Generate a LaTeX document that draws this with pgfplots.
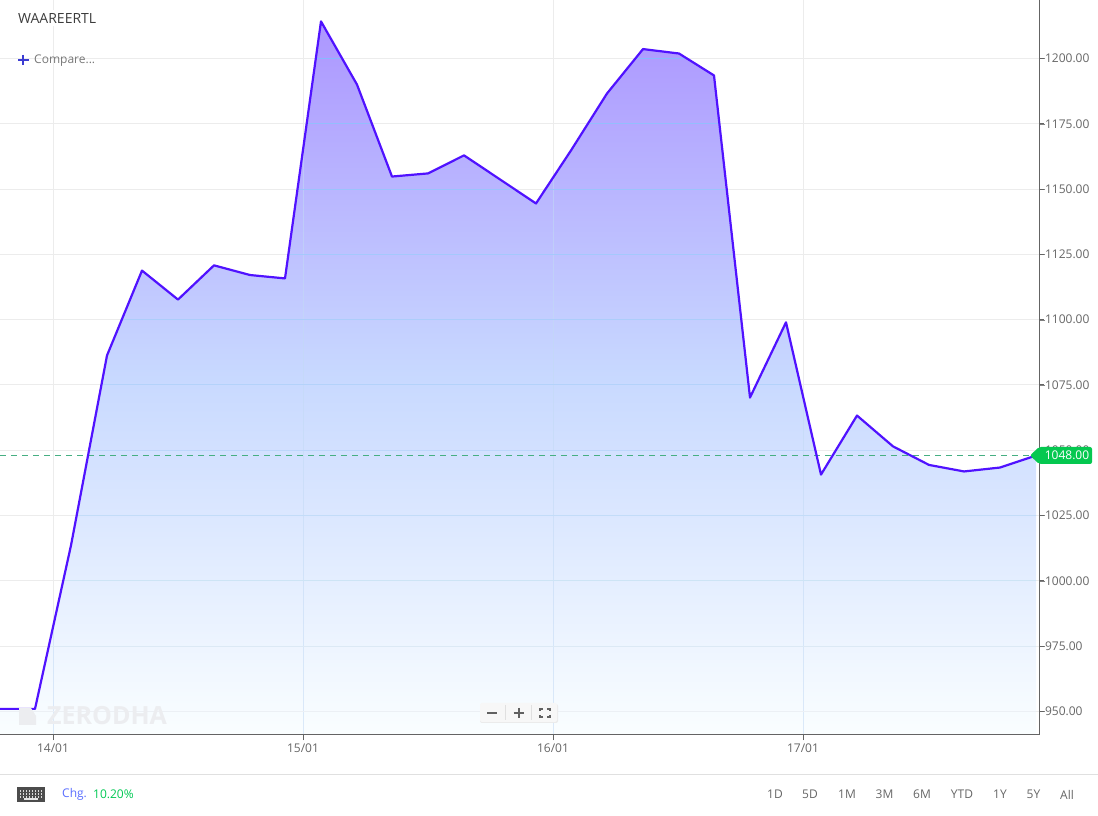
\documentclass[border=0pt]{standalone}
\usepackage{fontspec}
\setmainfont{Open Sans}
\usepackage{pgfplots}
\usepackage{pgfplotstable}
\pgfplotsset{compat=1.18}
\definecolor{linec}{RGB}{80,18,255}
\definecolor{gridc}{RGB}{236,236,236}
\definecolor{vgridin}{RGB}{195,218,245}
\definecolor{tickc}{RGB}{102,102,102}
\definecolor{spine}{RGB}{100,100,100}
\definecolor{tagc}{RGB}{5,200,80}
\definecolor{dashc}{RGB}{70,175,130}
\definecolor{btnc}{RGB}{102,102,102}
\definecolor{wm}{RGB}{236,237,240}
\definecolor{ftop}{RGB}{172,150,255}
\definecolor{fmid}{RGB}{200,217,255}
\definecolor{fbot}{RGB}{250,254,255}
\definecolor{plusc}{RGB}{60,60,210}
\definecolor{titlec}{RGB}{60,60,60}
\definecolor{compc}{RGB}{120,120,120}
\definecolor{chgc}{RGB}{90,110,255}
\definecolor{pctc}{RGB}{0,200,83}
\definecolor{g1200}{RGB}{135,185,255}
\definecolor{g1175}{RGB}{147,190,253}
\definecolor{g1150}{RGB}{155,195,252}
\definecolor{g1125}{RGB}{165,200,252}
\definecolor{g1100}{RGB}{172,205,250}
\definecolor{g1075}{RGB}{180,210,250}
\definecolor{g1050}{RGB}{188,214,250}
\definecolor{g1025}{RGB}{195,220,248}
\definecolor{g1000}{RGB}{205,228,245}
\definecolor{g975}{RGB}{220,233,245}
\definecolor{g950}{RGB}{236,240,245}
\pgfplotstableread{
x y
0 951
35 951
71 1013.6
107 1086.3
142 1118.8
178 1107.7
214 1120.8
250 1117.1
285 1115.8
321 1214.2
357 1190
392 1154.8
428 1156
464 1162.9
500 1153.7
536 1144.5
571 1164.8
607 1186.6
643 1203.6
679 1201.9
714 1193.5
750 1070.2
786 1099
821 1040.7
857 1063.3
893 1051.5
929 1044.4
964 1041.9
1000 1043.4
1036 1048
}\pricetable
\newcommand{\PX}[2]{({#1pt},{816pt-#2pt})}
\newcommand{\UI}[1]{\fontsize{#1}{#1}\selectfont}
\begin{document}
\begin{tikzpicture}[x=1pt,y=1pt]
\path[use as bounding box] (0pt,0pt) rectangle (1098pt,816pt);
\begin{axis}[
  at={(0pt,81.5pt)}, anchor=south west,
  scale only axis, width=1039pt, height=734pt,
  xmin=0, xmax=1039, ymin=941.2, ymax=1222.2,
  axis x line=bottom, axis y line=right,
  axis line style={-,draw=spine,line width=1pt},
  tick align=outside, major tick length=6pt,
  xtick={53,303,553,803},
  xticklabels={14/01,15/01,16/01,17/01},
  ytick={950,975,1000,1025,1050,1075,1100,1125,1150,1175,1200},
  grid=major, grid style={draw=gridc,line width=1pt},
  every tick label/.append style={font=\UI{12}, text=tickc},
  y tick label style={xshift=-3.5pt},
  /pgf/number format/assume math mode=true,
  y tick label style={/pgf/number format/.cd,fixed,fixed zerofill,precision=2,1000 sep={}},
]
\addplot[draw=none, top color=ftop, bottom color=fbot, middle color=fmid, forget plot]
  coordinates {(0,951)(35,951)(71,1013.6)(107,1086.3)(142,1118.8)(178,1107.7)(214,1120.8)(250,1117.1)(285,1115.8)(321,1214.2)(357,1190)(392,1154.8)(428,1156)(464,1162.9)(500,1153.7)(536,1144.5)(571,1164.8)(607,1186.6)(643,1203.6)(679,1201.9)(714,1193.5)(750,1070.2)(786,1099)(821,1040.7)(857,1063.3)(893,1051.5)(929,1044.4)(964,1041.9)(1000,1043.4)(1036,1048)(1036,941.2)(0,941.2)} \closedcycle;
\begin{scope}
\clip (axis cs:0,951)--(axis cs:35,951)--(axis cs:71,1013.6)--(axis cs:107,1086.3)--(axis cs:142,1118.8)--(axis cs:178,1107.7)--(axis cs:214,1120.8)--(axis cs:250,1117.1)--(axis cs:285,1115.8)--(axis cs:321,1214.2)--(axis cs:357,1190)--(axis cs:392,1154.8)--(axis cs:428,1156)--(axis cs:464,1162.9)--(axis cs:500,1153.7)--(axis cs:536,1144.5)--(axis cs:571,1164.8)--(axis cs:607,1186.6)--(axis cs:643,1203.6)--(axis cs:679,1201.9)--(axis cs:714,1193.5)--(axis cs:750,1070.2)--(axis cs:786,1099)--(axis cs:821,1040.7)--(axis cs:857,1063.3)--(axis cs:893,1051.5)--(axis cs:929,1044.4)--(axis cs:964,1041.9)--(axis cs:1000,1043.4)--(axis cs:1036,1048)--(axis cs:1036,941.2)--(axis cs:0,941.2)--cycle;
\draw[vgridin,line width=1pt,opacity=.55] (axis cs:53,941.2)--(axis cs:53,1222) (axis cs:303,941.2)--(axis cs:303,1222) (axis cs:553,941.2)--(axis cs:553,1222) (axis cs:803,941.2)--(axis cs:803,1222);
\draw[g950,line width=1pt] (axis cs:0,950)--(axis cs:1039,950);
\draw[g975,line width=1pt] (axis cs:0,975)--(axis cs:1039,975);
\draw[g1000,line width=1pt] (axis cs:0,1000)--(axis cs:1039,1000);
\draw[g1025,line width=1pt] (axis cs:0,1025)--(axis cs:1039,1025);
\draw[g1050,line width=1pt] (axis cs:0,1050)--(axis cs:1039,1050);
\draw[g1075,line width=1pt] (axis cs:0,1075)--(axis cs:1039,1075);
\draw[g1100,line width=1pt] (axis cs:0,1100)--(axis cs:1039,1100);
\draw[g1125,line width=1pt] (axis cs:0,1125)--(axis cs:1039,1125);
\draw[g1150,line width=1pt] (axis cs:0,1150)--(axis cs:1039,1150);
\draw[g1175,line width=1pt] (axis cs:0,1175)--(axis cs:1039,1175);
\draw[g1200,line width=1pt] (axis cs:0,1200)--(axis cs:1039,1200);
\end{scope}
\addplot[dashc, line width=1pt, dash pattern=on 6pt off 5pt, forget plot] coordinates {(0,1048)(1036,1048)};
\addplot[linec, line width=2.2pt, line join=round, mark=none] table[x=x,y=y] {\pricetable};
\end{axis}
% spines and tick marks on top of the fill
\draw[spine,line width=1pt] \PX{0}{734.5}--\PX{1039.5}{734.5} \PX{1039.5}{0}--\PX{1039.5}{734.5};
\foreach \xx in {53,303,553,803}{\draw[spine,line width=1pt] \PX{\xx}{734.5}--\PX{\xx}{740.5};}
\foreach \yy in {58.5,123.8,189.1,254.4,319.7,385,450.3,515.6,580.9,646.2,711.5}{\draw[spine,line width=1pt] \PX{1039.5}{\yy}--\PX{1044}{\yy};}
% price tag
\fill[tagc,rounded corners=2pt] \PX{1030}{455.5} -- \PX{1039}{447} -- \PX{1092}{447} -- \PX{1092}{464} -- \PX{1039}{464} -- cycle;
\node[text=white,font=\UI{12},anchor=center,inner sep=0pt] at \PX{1067}{455.5} {1048.00};
% header
\node[fill=white,text=titlec,font=\UI{14},anchor=west,inner xsep=0pt,inner ysep=3pt] at \PX{18}{18} {WAAREERTL};
\draw[plusc,line width=2pt] \PX{18}{60}--\PX{28.5}{60} \PX{23.2}{54.7}--\PX{23.2}{65.3};
\node[text=compc,font=\UI{12},anchor=west,inner sep=0pt] at \PX{34}{61} {Compare...};
% watermark
\fill[wm] \PX{19}{708}--\PX{31}{708}--\PX{36}{716}--\PX{36}{725}--\PX{19}{725}--cycle;
\node[text=wm,font=\UI{25}\bfseries,anchor=west,inner sep=0pt] at \PX{47}{716} {ZERODHA};
% zoom buttons
\fill[black!8,rounded corners=2pt] \PX{480}{704}--\PX{558}{704}--\PX{558}{723}--\PX{480}{723}--cycle;
\fill[white!97!black,rounded corners=2pt] \PX{480}{703}--\PX{557}{703}--\PX{557}{722}--\PX{480}{722}--cycle;
\draw[black!12] \PX{505.5}{705}--\PX{505.5}{720} \PX{531.5}{705}--\PX{531.5}{720};
\draw[black!62,line width=2pt] \PX{487}{713}--\PX{497}{713} \PX{513.5}{713}--\PX{523.5}{713} \PX{518.5}{708}--\PX{518.5}{718};
\draw[black!62,line width=1.5pt] \PX{540}{711}--\PX{540}{709}--\PX{543}{709} \PX{547}{709}--\PX{550}{709}--\PX{550}{711} \PX{550}{715}--\PX{550}{717}--\PX{547}{717} \PX{543}{717}--\PX{540}{717}--\PX{540}{715};
% footer
\draw[black!12,line width=1pt] \PX{0}{774.5}--\PX{1098}{774.5};
\fill[black!70] \PX{17}{787}--\PX{45}{787}--\PX{45}{802}--\PX{17}{802}--cycle;
\foreach \r in {790,793,796}{\foreach \c in {19.5,22.5,...,41.5}{\fill[white!85!black] \PX{\c}{\r} rectangle ++(1.6pt,-1.6pt);}}
\fill[white!90!black] \PX{24}{798.5} rectangle \PX{38}{800.3};
\node[text=chgc,font=\UI{12},anchor=west,inner sep=0pt] at \PX{62}{794.5} {Chg.};
\node[text=pctc,font=\UI{12},anchor=west,inner sep=0pt] at \PX{93}{794.5} {10.20\%};
\foreach \xx/\t in {775/1D,810/5D,847/1M,884.5/3M,922/6M,962/YTD,1000/1Y,1033.5/5Y,1067/All}{
  \node[text=btnc,font=\UI{12},anchor=center,inner sep=0pt] at \PX{\xx}{794.5} {\t};
}
\end{tikzpicture}
\end{document}
